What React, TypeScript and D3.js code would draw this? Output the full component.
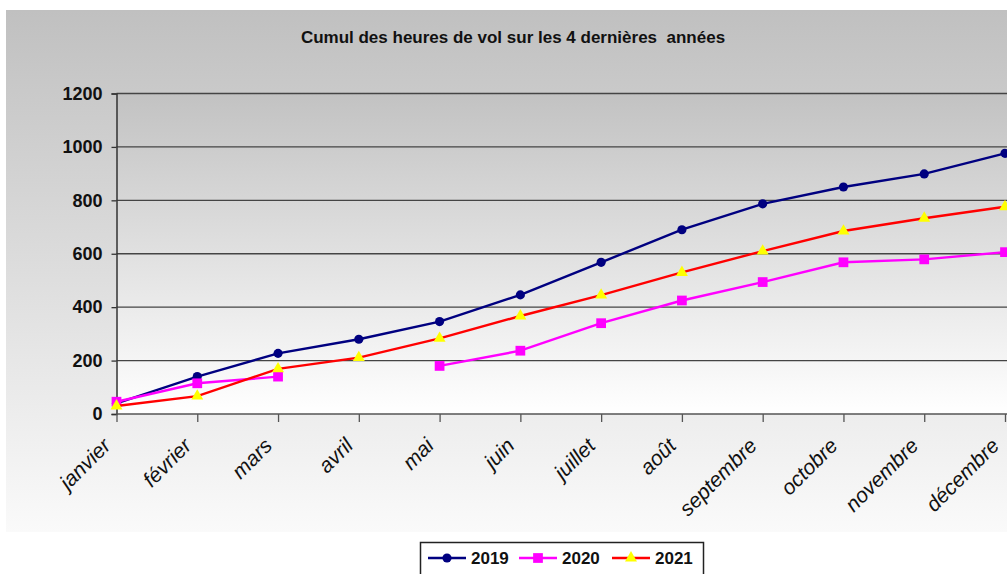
import React, { useEffect, useRef } from "react";
import * as d3 from "d3";

const months = [
  "janvier", "février", "mars", "avril", "mai", "juin",
  "juillet", "août", "septembre", "octobre", "novembre", "décembre",
];
const yTicks = [0, 200, 400, 600, 800, 1000, 1200];
const hours2019 = [40, 140, 227, 280, 346, 446, 568, 690, 787, 850, 899, 976];
const hours2020 = [46, 115, 140, null, 180, 237, 340, 425, 494, 568, 579, 606];
const hours2021 = [30, 67, 169, 211, 283, 367, 445, 530, 610, 685, 733, 776];
const seriesNames = ["2019", "2020", "2021"];

const W = 1007;
const H = 574;
const FONT = "Liberation Sans, Arial, sans-serif";

export default function App() {
  const ref = useRef<SVGSVGElement>(null);

  useEffect(() => {
    const svg = d3.select(ref.current);
    svg.selectAll("*").remove();

    const left = 116.5;
    const right = 1005;
    const top = 93.5;
    const bottom = 414;

    const defs = svg.append("defs");
    const bg = defs
      .append("linearGradient")
      .attr("id", "bg-grad")
      .attr("x1", "0%").attr("x2", "0%").attr("y1", "0%").attr("y2", "100%");
    bg.append("stop").attr("offset", "0%").style("stop-color", "#c0c0c0");
    bg.append("stop").attr("offset", "100%").style("stop-color", "#fafafa");
    const pg = defs
      .append("linearGradient")
      .attr("id", "plot-grad")
      .attr("x1", "0%").attr("x2", "0%").attr("y1", "0%").attr("y2", "100%");
    pg.append("stop").attr("offset", "0%").style("stop-color", "#c2c2c2");
    pg.append("stop").attr("offset", "100%").style("stop-color", "#ffffff");

    // chart panel
    svg.append("rect")
      .attr("x", 6).attr("y", 10).attr("width", W - 6).attr("height", 522)
      .attr("fill", "url(#bg-grad)");
    svg.append("rect")
      .attr("x", left).attr("y", top).attr("width", W - left).attr("height", bottom - top)
      .attr("fill", "url(#plot-grad)");

    svg.append("text")
      .attr("x", 513).attr("y", 43)
      .attr("text-anchor", "middle")
      .attr("font-family", FONT)
      .attr("font-weight", "bold")
      .attr("font-size", 17)
      .attr("fill", "#111")
      .style("white-space", "pre")
      .text("Cumul des heures de vol sur les 4 dernières  années");

    const x = d3.scalePoint<string>().domain(months).range([left, right]);
    const y = d3.scaleLinear().domain([0, 1200]).range([bottom, top]);

    // gridlines
    svg.append("g")
      .selectAll("line")
      .data(yTicks.filter((t) => t > 0))
      .join("line")
      .attr("x1", left).attr("x2", W)
      .attr("y1", (d) => y(d)).attr("y2", (d) => y(d))
      .attr("stroke", "#444").attr("stroke-width", 1.4);

    // y axis
    const yAxis = svg.append("g")
      .attr("transform", `translate(${left},0)`)
      .call(d3.axisLeft(y).tickValues(yTicks).tickFormat(d3.format("d")).tickSize(5).tickPadding(9));
    yAxis.select(".domain").attr("stroke", "#333").attr("stroke-width", 1.5);
    yAxis.selectAll(".tick line").attr("stroke", "#333").attr("stroke-width", 1.3);
    yAxis.selectAll("text")
      .attr("font-family", FONT)
      .attr("font-weight", "bold")
      .attr("font-size", 18)
      .attr("fill", "#111");

    // x axis
    const xAxis = svg.append("g")
      .attr("transform", `translate(0,${bottom})`)
      .call(d3.axisBottom(x).tickSize(8).tickSizeOuter(0));
    xAxis.select(".domain").attr("stroke", "#555").attr("stroke-width", 1.5)
      .attr("d", `M${left},0H${W}`);
    xAxis.selectAll(".tick line").attr("stroke", "#555").attr("stroke-width", 1.3);
    xAxis.selectAll("text")
      .attr("font-family", FONT)
      .attr("font-style", "italic")
      .attr("font-size", 21)
      .attr("fill", "#111")
      .attr("text-anchor", "end")
      .attr("transform", "translate(-5,33) rotate(-45)")
      .attr("x", 0).attr("y", 0).attr("dy", 0);

    const series = [
      { name: seriesNames[0], values: hours2019, stroke: "#000080", fill: "#000080", shape: "circle" },
      { name: seriesNames[1], values: hours2020, stroke: "#ff00ff", fill: "#ff00ff", shape: "square" },
      { name: seriesNames[2], values: hours2021, stroke: "#ff0000", fill: "#ffff00", shape: "triangle" },
    ];

    const line = d3.line<number | null>()
      .defined((d) => d !== null)
      .x((_, i) => x(months[i]) as number)
      .y((d) => y(d as number));

    const symbolFor = (shape: string) =>
      shape === "circle"
        ? d3.symbol(d3.symbolCircle, 66)
        : shape === "square"
        ? d3.symbol(d3.symbolSquare, 95)
        : d3.symbol(d3.symbolTriangle, 62);

    series.forEach((s) => {
      const g = svg.append("g");
      g.append("path")
        .datum(s.values)
        .attr("fill", "none")
        .attr("stroke", s.stroke)
        .attr("stroke-width", 2.4)
        .attr("d", line);
      g.selectAll("path.pt")
        .data(s.values.map((v, i) => ({ v, i })).filter((d) => d.v !== null))
        .join("path")
        .attr("class", "pt")
        .attr("transform", (d) => `translate(${x(months[d.i])},${y(d.v as number)})`)
        .attr("fill", s.fill)
        .attr("d", symbolFor(s.shape)());
    });

    // legend
    const lg = svg.append("g");
    lg.append("rect")
      .attr("x", 420.5).attr("y", 542.5).attr("width", 283).attr("height", 40)
      .attr("fill", "#fff").attr("stroke", "#222").attr("stroke-width", 1.5);
    const legendX = [428, 519, 612];
    series.forEach((s, i) => {
      const lx = legendX[i];
      const ly = 558;
      lg.append("line")
        .attr("x1", lx).attr("x2", lx + 38).attr("y1", ly).attr("y2", ly)
        .attr("stroke", s.stroke).attr("stroke-width", 2.5);
      lg.append("path")
        .attr("transform", `translate(${lx + 19},${ly})`)
        .attr("fill", s.fill)
        .attr("d", symbolFor(s.shape)());
      lg.append("text")
        .attr("x", lx + 43).attr("y", ly).attr("dy", "0.36em")
        .attr("font-family", FONT)
        .attr("font-weight", "bold")
        .attr("font-size", 17)
        .attr("fill", "#111")
        .text(s.name);
    });
  }, []);

  return (
    <svg
      ref={ref}
      width={W}
      height={H}
      style={{ position: "absolute", left: 0, top: 0, background: "#fff" }}
    />
  );
}
